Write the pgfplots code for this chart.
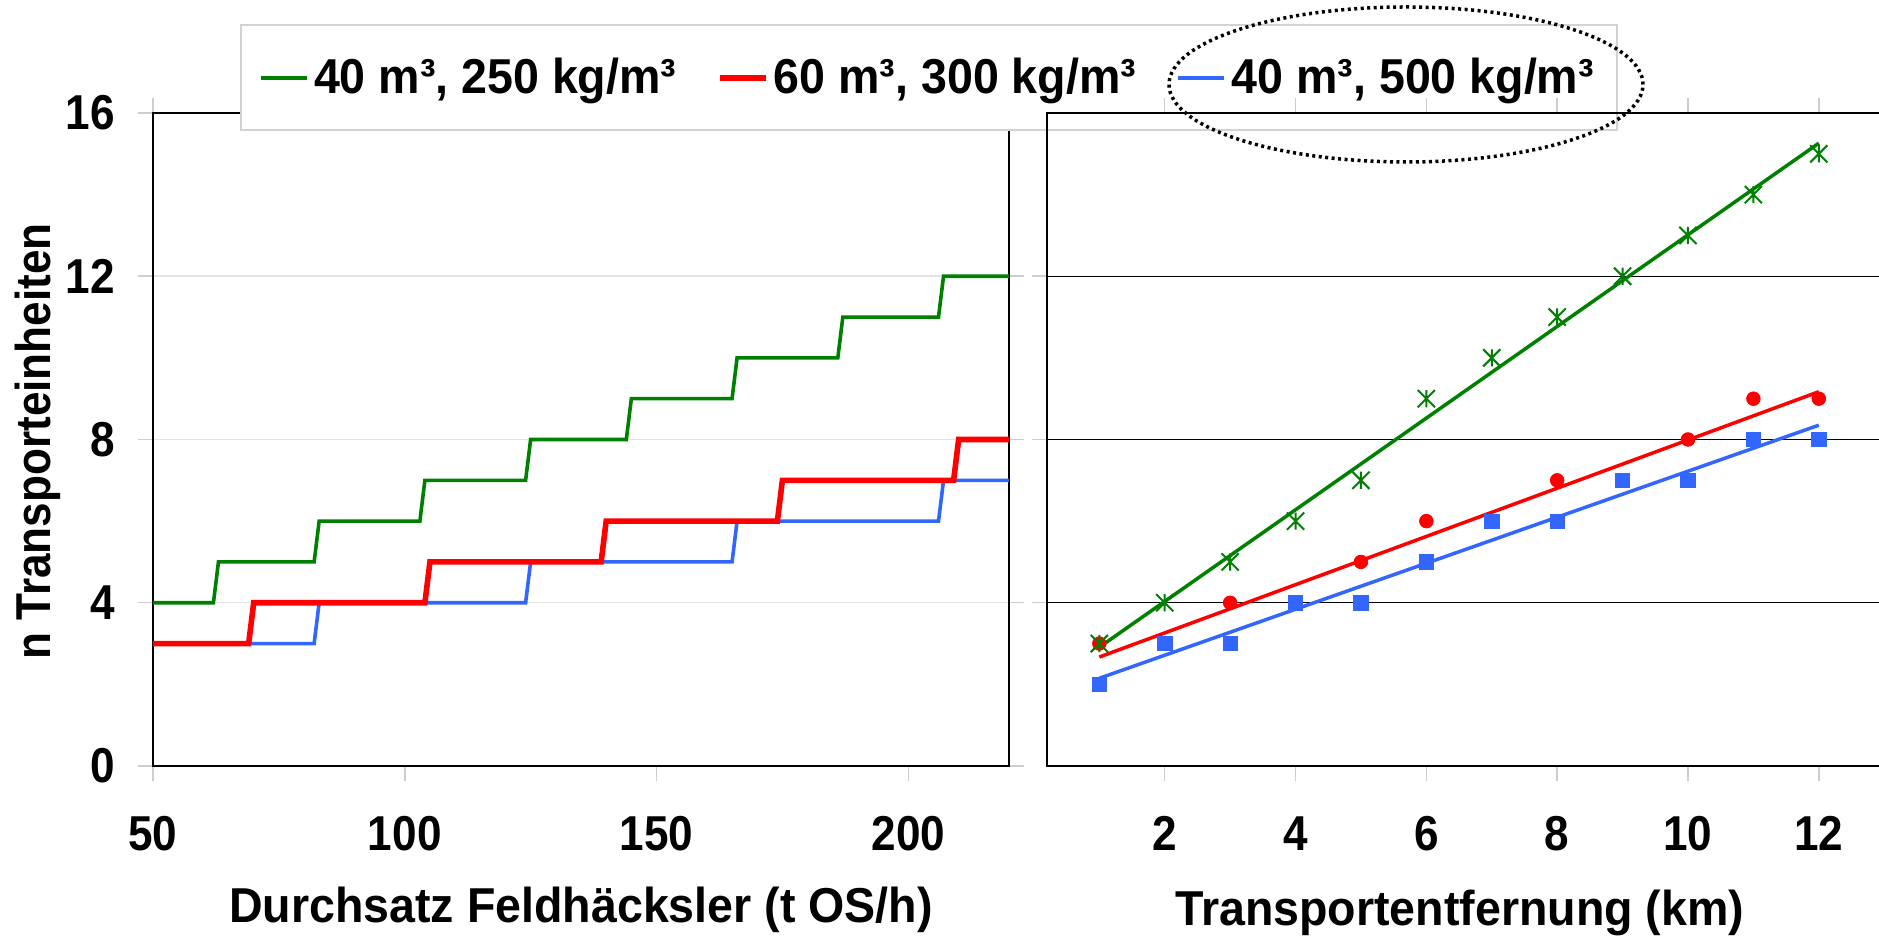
\documentclass[border=0pt]{standalone}
\usepackage{fontspec}
\setmainfont{Liberation Sans}
\newfontfamily\tickfam[FakeStretch=0.9]{Liberation Sans}
\newfontfamily\legfam[FakeStretch=0.95]{Liberation Sans}
\usepackage{pgfplots}
\pgfplotsset{compat=1.18}
\definecolor{cgreen}{RGB}{0,128,0}
\definecolor{cred}{RGB}{255,0,0}
\definecolor{cblue}{RGB}{51,102,255}
\definecolor{tickgray}{RGB}{205,205,205}
\pgfdeclareplotmark{xstar}{%
  \pgfpathmoveto{\pgfqpoint{-\pgfplotmarksize}{-\pgfplotmarksize}}%
  \pgfpathlineto{\pgfqpoint{\pgfplotmarksize}{\pgfplotmarksize}}%
  \pgfpathmoveto{\pgfqpoint{-\pgfplotmarksize}{\pgfplotmarksize}}%
  \pgfpathlineto{\pgfqpoint{\pgfplotmarksize}{-\pgfplotmarksize}}%
  \pgfpathmoveto{\pgfqpoint{0pt}{-\pgfplotmarksize}}%
  \pgfpathlineto{\pgfqpoint{0pt}{\pgfplotmarksize}}%
  \pgfusepathqstroke}
\newcommand\tickf{\tickfam\fontsize{24.5}{28}\selectfont\bfseries}
\newcommand\legf{\legfam\fontsize{24.5}{28}\selectfont\bfseries}
\pgfplotsset{
  base/.style={
    scale only axis, anchor=south west,
    axis line style={black, line width=1pt},
    tick align=outside, major tick length=7.5pt,
    major tick style={tickgray, line width=0.75pt},
    ticklabel style={font=\tickf},
    /pgf/number format/assume math mode=true,
    ymin=0, ymax=16,
    yticklabel style={anchor=east, inner sep=0pt, xshift=-11.5pt},
    xticklabel style={anchor=north, inner sep=0pt, yshift=-17.5pt},
  }
}
\begin{document}
\begin{tikzpicture}
\useasboundingbox (0,0) rectangle (939.5pt,468pt);
\clip (0,0) rectangle (939.5pt,468pt);
% ---------------- left panel ----------------
\begin{axis}[base,
  at={(76.5pt,85pt)}, width=428pt, height=326.5pt,
  xmin=50, xmax=220, xtick={50,100,150,200},
  ytick={0,4,8,12,16},
  ymajorgrids, grid style={gray!22, line width=0.75pt},
  xlabel={Durchsatz Feldhäcksler (t OS/h)},
  ylabel={n Transporteinheiten},
  xlabel style={font=\legf, at={(axis description cs:0.5,-0.2389)}, anchor=base},
  ylabel style={font=\tickf, at={(axis description cs:-0.134,0.497)}, anchor=center},
  legend columns=3, legend cell align=left,
  legend style={at={(axis description cs:0.1016,1.1363)}, anchor=north west,
    draw=gray!35, line width=1pt, fill=white, font=\legf,
    inner xsep=9pt, inner ysep=16.75pt,
    nodes={inner xsep=2.75pt, inner ysep=0pt},
    /tikz/every even column/.append style={column sep=17.5pt}},
  legend image code/.code={\draw[#1] (0pt,0pt) -- (23pt,0pt);},
]
\addlegendimage{cgreen, line width=1.8pt}
\addlegendentry{40 m³, 250 kg/m³}
\addlegendimage{cred, line width=2.8pt}
\addlegendentry{60 m³, 300 kg/m³}
\addlegendimage{cblue, line width=1.8pt}
\addlegendentry{40 m³, 500 kg/m³}
% 40 m3, 250 kg/m3
\addplot[cgreen, line width=1.8pt, forget plot] coordinates {
 (50,4) (62,4) (63,5) (82,5) (83,6) (103,6) (104,7) (124,7) (125,8)
 (144,8) (145,9) (165,9) (166,10) (186,10) (187,11) (206,11) (207,12) (220,12)};
% 40 m3, 500 kg/m3
\addplot[cblue, line width=1.8pt, forget plot] coordinates {
 (50,3) (82,3) (83,4) (124,4) (125,5) (165,5) (166,6) (206,6) (207,7) (220,7)};
% 60 m3, 300 kg/m3
\addplot[cred, line width=2.8pt, forget plot] coordinates {
 (50,3) (69,3) (70,4) (104,4) (105,5) (139,5) (140,6) (174,6) (175,7)
 (209,7) (210,8) (220,8)};
\end{axis}
% ---------------- right panel ----------------
\begin{axis}[base,
  at={(523.5pt,85pt)}, width=418.6pt, height=326.5pt,
  xmin=0.2, xmax=13, xtick={2,4,6,8,10,12},
  ytick={4,8,12}, yticklabels={},
  ymajorgrids, grid style={black, line width=0.6pt},
  xlabel={Transportentfernung (km)},
  xlabel style={font=\legf, at={(axis description cs:0.493,-0.245)}, anchor=base},
]
% trend lines
\addplot[cred, line width=1.75pt] coordinates {(1,2.67) (12,9.17)};
\addplot[cblue, line width=1.75pt] coordinates {(1,2.15) (12,8.35)};
\addplot[cgreen, line width=1.75pt] coordinates {(1,2.91) (12,15.26)};
% data points
\addplot[only marks, mark=*, mark size=3.4pt, cred] coordinates {
 (1,3) (2,3) (3,4) (4,4) (5,5) (6,6) (7,6) (8,7) (9,7) (10,8) (11,9) (12,9)};
\addplot[only marks, mark=square*, mark size=3.6pt, cblue] coordinates {
 (1,2) (2,3) (3,3) (4,4) (5,4) (6,5) (7,6) (8,6) (9,7) (10,7) (11,8) (12,8)};
\addplot[only marks, mark=xstar, mark size=4.3pt, cgreen, line width=1pt] coordinates {
 (1,3) (2,4) (3,5) (4,6) (5,7) (6,9) (7,10) (8,11) (9,12) (10,13) (11,14) (12,15)};
\end{axis}
% dotted ellipse around third legend entry
\draw[line width=1.75pt, dash pattern=on 1.5pt off 1.75pt] (703pt,425.75pt) ellipse [x radius=118.5pt, y radius=38.75pt];
\end{tikzpicture}
\end{document}
